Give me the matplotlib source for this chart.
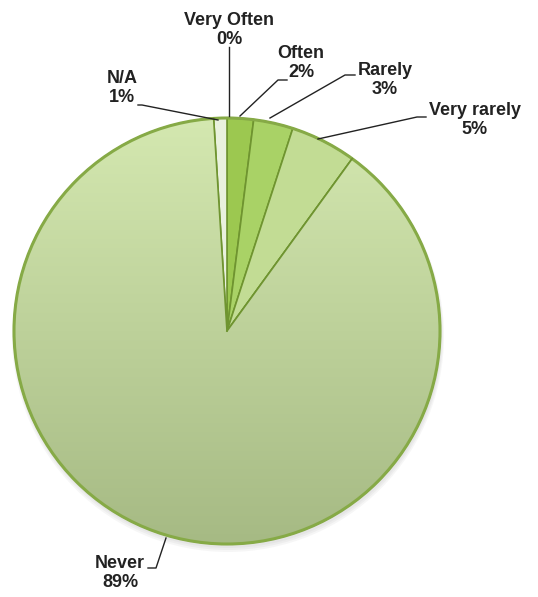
import numpy as np
import matplotlib.pyplot as plt
from matplotlib.patches import Circle

plt.rcParams['font.family'] = ['Liberation Sans', 'DejaVu Sans']

labels = ['Very Often', 'Often', 'Rarely', 'Very rarely', 'Never', 'N/A']
values = [0, 2, 3, 5, 89, 1]
colors = ['#9cc850', '#9cc850', '#a9d266', '#c2dc94', '#cfe4aa', '#e9f1dd']

# label text positions and leader line points (data coords, y up)
text_pos = [(229, 567), (301, 534), (385, 517), (475, 477), (120, 24), (122, 509)]
leaders = [
    [(229, 550), (229, 481)],
    [(287, 517), (278, 517), (240, 481)],
    [(355, 522), (345, 522), (270, 479)],
    [(426, 480), (417, 480), (318, 458)],
    [(148, 29), (156, 29), (166, 59)],
    [(138, 492), (142, 492), (218, 477)],
]

cx, cy, r = 227, 266, 213

fig = plt.figure(figsize=(5.38, 5.97), dpi=100)
ax = fig.add_axes([0, 0, 1, 1])

# soft shadow
for k in range(3):
    ax.add_patch(Circle((cx + 1, cy - 3 - k), r + 1 + k, color='#555555', alpha=0.05, lw=0, zorder=0))

wedges, _ = ax.pie(values, colors=colors, startangle=90, counterclock=False,
                   center=(cx, cy), radius=r, frame=True,
                   wedgeprops=dict(edgecolor='#6f9430', linewidth=1.2))
ax.set_xlim(0, 538)
ax.set_ylim(0, 597)
ax.set_aspect('equal')
ax.axis('off')

# vertical gradient on the big slice
grad = np.linspace(0, 1, 256)[:, None]
top = np.array([212, 232, 176]) / 255
bot = np.array([166, 186, 132]) / 255
img = top + (bot - top) * grad[..., None]
img = np.repeat(img, 2, axis=1)
im = ax.imshow(img, extent=[cx - r, cx + r, cy - r, cy + r], origin='upper',
               aspect='auto', zorder=wedges[4].get_zorder() + 0.1)
im.set_clip_path(wedges[4])
ax.add_patch(Circle((cx, cy), r, fill=False, ec='#86aa46', lw=2.2, zorder=5))
# redraw radial edges of big slice on top of gradient
for th_deg in (wedges[4].theta1, wedges[4].theta2):
    th = np.deg2rad(th_deg)
    ax.plot([cx, cx + r * np.cos(th)], [cy, cy + r * np.sin(th)], color='#6f9430', lw=1.2, zorder=6)

for lab, v, (tx, ty), pts in zip(labels, values, text_pos, leaders):
    ax.text(tx, ty, f'{lab}\n{v}%', ha='center', va='center', fontsize=13,
            fontweight='bold', color='#222222', linespacing=1.15, zorder=10)
    xs, ys = zip(*pts)
    ax.plot(xs, ys, color='#222222', lw=1, zorder=9)

plt.savefig('out.png', dpi=100)
